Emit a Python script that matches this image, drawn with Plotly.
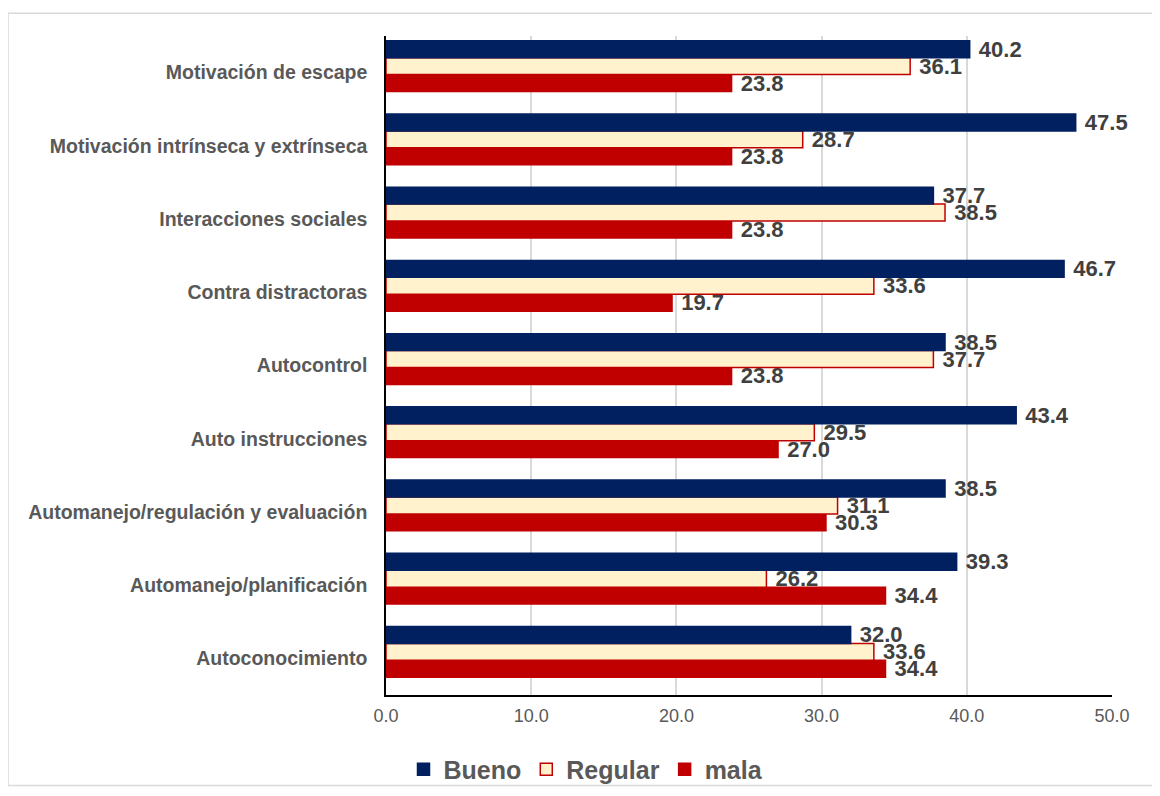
import plotly.graph_objects as go

# Categories listed bottom-to-top (as plotted)
categories = [
    "Autoconocimiento",
    "Automanejo/planificación",
    "Automanejo/regulación y evaluación",
    "Auto instrucciones",
    "Autocontrol",
    "Contra distractoras",
    "Interacciones sociales",
    "Motivación intrínseca y extrínseca",
    "Motivación de escape",
]
bueno = [32.0, 39.3, 38.5, 43.4, 38.5, 46.7, 37.7, 47.5, 40.2]
regular = [33.6, 26.2, 31.1, 29.5, 37.7, 33.6, 38.5, 28.7, 36.1]
mala = [34.4, 34.4, 30.3, 27.0, 23.8, 19.7, 23.8, 23.8, 23.8]
x_ticks = [0, 10, 20, 30, 40, 50]

W, H = 1160, 796
L, R, T, B = 378, 56, 28, 105
FONT = "Liberation Sans, Arial, sans-serif"
BAR_W = 0.231

fig = go.Figure()
label_font = dict(family=FONT, size=22, color="#404040")

def add(name, vals, fill, line, offset):
    fig.add_trace(go.Bar(
        name=name, y=categories, x=vals, orientation="h",
        width=BAR_W, offset=offset,
        marker=dict(color=fill, line=dict(color=line, width=1.5)),
        text=[f"<b> {v:.1f}</b>" for v in vals], textposition="outside",
        textfont=label_font, constraintext="none", cliponaxis=False,
        hoverinfo="skip",
    ))

add("mala", mala, "#C00000", "#C00000", -0.258)
add("Regular", regular, "#FFF2CC", "#C00000", -0.027)
add("Bueno", bueno, "#002060", "#002060", 0.204)

pw = W - L - R
ph = H - T - B
fig.add_shape(type="rect", xref="paper", yref="paper",
              x0=(0 - L) / pw, x1=(1152 - L) / pw,
              y0=(H - B - 782) / ph, y1=(H - B - 5) / ph,
              line=dict(color="#D9D9D9", width=1.5), layer="below")

fig.update_layout(
    width=W, height=H, barmode="group",
    margin=dict(l=L, r=R, t=T, b=B, pad=0),
    plot_bgcolor="white", paper_bgcolor="white",
    font=dict(family=FONT, color="#595959"),
    legend=dict(orientation="h", traceorder="reversed",
                x=(578 - L) / pw, xanchor="center",
                y=-(766 - (H - B)) / ph, yanchor="middle",
                bgcolor="rgba(0,0,0,0)",
                font=dict(family=FONT, size=25, color="#595959", weight="bold"),
                itemwidth=30),
    xaxis=dict(range=[0, 50], tickvals=x_ticks, ticktext=[f"{t:.1f}" for t in x_ticks],
               showgrid=True, gridcolor="#D9D9D9", gridwidth=1.5,
               showline=True, linecolor="black", linewidth=1.5,
               ticks="", tickfont=dict(family=FONT, size=18, color="#595959"),
               ticklabelstandoff=4, zeroline=False, fixedrange=True),
    yaxis=dict(showline=True, linecolor="black", linewidth=1.5, ticks="",
               range=[-0.5, 8.5],
               tickfont=dict(family=FONT, size=19.5, color="#595959", weight="bold"),
               ticklabelstandoff=13, showgrid=False, fixedrange=True),
    showlegend=True,
)

fig.write_html("out.html")
